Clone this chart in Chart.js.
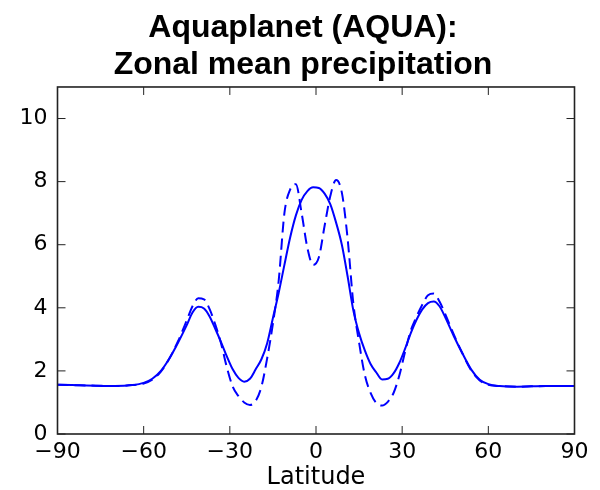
<!DOCTYPE html>
<html>
<head>
<meta charset="utf-8">
<script src="https://cdn.jsdelivr.net/npm/chart.js@4"></script>
<style>
html,body{margin:0;padding:0;background:#fff;}
#wrap{width:600px;height:490px;position:relative;}
</style>
</head>
<body>
<div id="wrap"><canvas id="c"></canvas></div>
<script>
const latitudes = [-90,-80,-70,-64,-60,-57,-54,-51,-48,-45,-43,-41,-39,-37,-35,-33,-31,-29,-27,-25,-23,-21,-19,-17,-15,-13,-11,-9,-7,-5,-3,-1,1,3,5,7,9,11,13,15,17,19,21,23,25,27,29,31,33,35,37,39,41,43,45,48,51,54,57,60,64,70,80,90];
const solidValues = [1.56,1.54,1.52,1.55,1.62,1.75,2.0,2.4,2.9,3.45,3.85,4.03,3.98,3.72,3.32,2.9,2.45,2.05,1.78,1.66,1.75,2.05,2.37,2.88,3.68,4.47,5.36,6.23,6.93,7.42,7.7,7.82,7.8,7.62,7.28,6.7,6.0,5.0,3.92,3.19,2.65,2.22,1.95,1.73,1.75,1.92,2.25,2.7,3.2,3.62,3.95,4.15,4.2,4.05,3.7,3.1,2.55,2.05,1.72,1.58,1.52,1.5,1.52,1.52];
const dashedValues = [1.56,1.54,1.52,1.55,1.6,1.72,1.98,2.4,2.95,3.6,4.05,4.3,4.27,3.95,3.45,2.85,2.1,1.5,1.2,1.0,0.92,1.05,1.5,2.4,3.5,4.85,7.0,7.75,7.92,7.0,5.9,5.36,5.6,6.6,7.55,8.05,7.65,6.2,4.14,2.9,1.87,1.3,0.98,0.9,1.02,1.3,1.85,2.6,3.28,3.72,4.1,4.4,4.45,4.2,3.8,3.15,2.55,2.02,1.7,1.56,1.52,1.5,1.52,1.52];
const xTicks = [-90,-60,-30,0,30,60,90];
const yTicks = [0,2,4,6,8,10];
const titleLines = ['Aquaplanet (AQUA):','Zonal mean precipitation'];
const xLabel = 'Latitude';

const frameTicks = {
  id: 'frameTicks',
  afterDatasetsDraw(chart) {
    const {ctx, chartArea: a, scales} = chart;
    ctx.save();
    ctx.strokeStyle = '#222';
    ctx.lineWidth = 1;
    const L = 8;
    xTicks.forEach(v => {
      const px = scales.x.getPixelForValue(v);
      ctx.beginPath();
      ctx.moveTo(px, a.bottom); ctx.lineTo(px, a.bottom - L);
      ctx.moveTo(px, a.top); ctx.lineTo(px, a.top + L);
      ctx.stroke();
    });
    yTicks.forEach(v => {
      const py = scales.y.getPixelForValue(v);
      ctx.beginPath();
      ctx.moveTo(a.left, py); ctx.lineTo(a.left + L, py);
      ctx.moveTo(a.right, py); ctx.lineTo(a.right - L, py);
      ctx.stroke();
    });
    ctx.lineWidth = 1.6;
    ctx.strokeRect(a.left, a.top, a.right - a.left, a.bottom - a.top);
    ctx.restore();
  }
};

new Chart(document.getElementById('c'), {
  type: 'line',
  data: {
    datasets: [
      {
        data: latitudes.map((x, i) => ({x, y: solidValues[i]})),
        borderColor: '#0000ff', borderWidth: 2, pointRadius: 0,
        cubicInterpolationMode: 'monotone', fill: false
      },
      {
        data: latitudes.map((x, i) => ({x, y: dashedValues[i]})),
        borderColor: '#0000ff', borderWidth: 2, pointRadius: 0, borderDash: [11, 6],
        cubicInterpolationMode: 'monotone', fill: false
      }
    ]
  },
  plugins: [frameTicks],
  options: {
    responsive: true, maintainAspectRatio: false, animation: false,
    layout: {padding: {left: 6, right: 0, top: 0, bottom: 0}},
    plugins: {
      legend: {display: false}, tooltip: {enabled: false},
      title: {
        display: true, text: titleLines, color: '#000',
        font: {family: '"Liberation Sans", Arial, sans-serif', size: 32, weight: 'bold', lineHeight: 1.156},
        padding: {top: 10, bottom: 3}
      }
    },
    scales: {
      x: {
        type: 'linear', min: -90, max: 90,
        afterBuildTicks(s) { s.ticks = xTicks.map(v => ({value: v})); },
        afterFit(s) { s.height = 56; },
        grid: {display: false, drawTicks: false},
        border: {display: false},
        ticks: {color: '#000', padding: 5, maxRotation: 0, autoSkip: false,
          font: {family: '"DejaVu Sans", sans-serif', size: 22},
          callback: v => String(v).replace('-', '\u2212')},
        title: {display: true, text: xLabel, color: '#000',
          font: {family: '"DejaVu Sans", sans-serif', size: 24}, padding: {top: 0, bottom: -2.5}}
      },
      y: {
        type: 'linear', min: 0, max: 11,
        afterBuildTicks(s) { s.ticks = yTicks.map(v => ({value: v})); },
        afterFit(s) { s.width = 51.5; },
        grid: {display: false, drawTicks: false},
        border: {display: false},
        ticks: {color: '#000', padding: 10,
          font: {family: '"DejaVu Sans", sans-serif', size: 22}}
      },
      yRight: {
        type: 'linear', position: 'right', min: 0, max: 11,
        afterFit(s) { s.width = 25.5; },
        grid: {display: false, drawTicks: false},
        border: {display: false},
        ticks: {display: false}
      }
    }
  }
});
</script>
</body>
</html>
